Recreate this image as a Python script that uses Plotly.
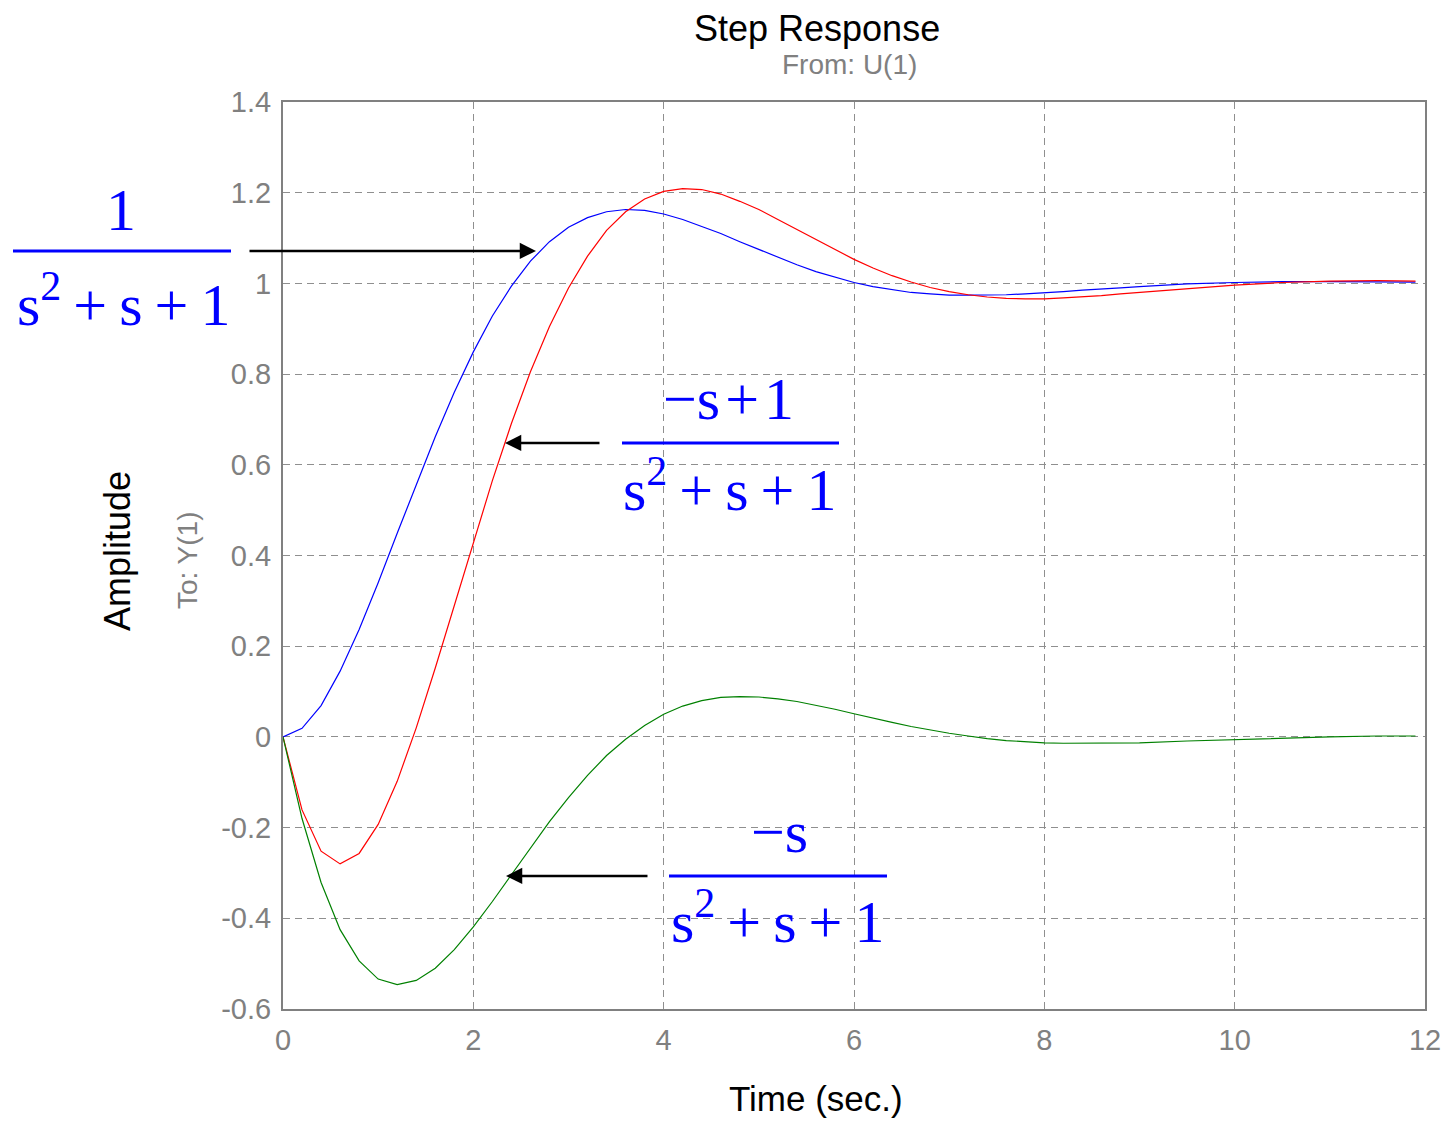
import plotly.graph_objects as go

# ---- data ----
time_s = [0.0, 0.2, 0.4, 0.6, 0.8, 1.0, 1.2, 1.4, 1.6, 1.8, 2.0, 2.2, 2.4, 2.6, 2.8,
          3.0, 3.2, 3.4, 3.6, 3.8, 4.0, 4.2, 4.4, 4.6, 4.8, 5.0, 5.2, 5.4, 5.6, 5.8,
          6.0, 6.2, 6.4, 6.6, 6.8, 7.0, 7.2, 7.4, 7.6, 7.8, 8.0, 8.2, 8.4, 8.6, 8.8,
          9.0, 9.5, 10.0, 10.5, 11.0, 11.5, 11.9]

blue_resp = [0.000, 0.019, 0.069, 0.145, 0.237, 0.340, 0.449, 0.557, 0.662, 0.760, 0.849,
             0.928, 0.994, 1.049, 1.092, 1.124, 1.145, 1.158, 1.163, 1.161, 1.153, 1.141,
             1.126, 1.110, 1.092, 1.075, 1.058, 1.041, 1.026, 1.014, 1.002, 0.993, 0.986,
             0.980, 0.977, 0.974, 0.974, 0.974, 0.975, 0.977, 0.979, 0.982, 0.985, 0.987,
             0.990, 0.993, 0.999, 1.002, 1.004, 1.004, 1.004, 1.003]

red_resp = [0.000, -0.161, -0.252, -0.280, -0.257, -0.193, -0.098, 0.020, 0.152, 0.291,
            0.430, 0.565, 0.691, 0.805, 0.905, 0.990, 1.060, 1.117, 1.158, 1.186, 1.203,
            1.209, 1.207, 1.197, 1.181, 1.163, 1.141, 1.119, 1.096, 1.074, 1.053, 1.034,
            1.017, 1.003, 0.991, 0.982, 0.975, 0.970, 0.967, 0.966, 0.966, 0.968, 0.970,
            0.973, 0.977, 0.980, 0.989, 0.996, 1.002, 1.005, 1.006, 1.005]

green_resp = [0.000, -0.180, -0.321, -0.425, -0.494, -0.534, -0.546, -0.537, -0.510, -0.469,
              -0.419, -0.363, -0.304, -0.245, -0.187, -0.134, -0.085, -0.041, -0.005, 0.025,
              0.050, 0.068, 0.080, 0.087, 0.089, 0.088, 0.084, 0.078, 0.070, 0.061, 0.051,
              0.041, 0.032, 0.023, 0.015, 0.008, 0.002, -0.004, -0.008, -0.011, -0.013,
              -0.014, -0.014, -0.014, -0.014, -0.013, -0.009, -0.006, -0.002, 0.000, 0.002,
              0.002]

x_ticks = [0, 2, 4, 6, 8, 10, 12]
x_ticktext = ["0", "2", "4", "6", "8", "10", "12"]
y_ticks = [-0.6, -0.4, -0.2, 0, 0.2, 0.4, 0.6, 0.8, 1.0, 1.2, 1.4]
y_ticktext = ["-0.6", "-0.4", "-0.2", "0", "0.2", "0.4", "0.6", "0.8", "1", "1.2", "1.4"]

# ---- figure (page body adds an 8 px margin) ----
OFF = 8
W, H = 1451 - 2 * OFF, 1126 - 2 * OFF
L, T = 283 - OFF, 102 - OFF
R = W - (1425 - OFF)
B = H - (1009 - OFF)
PW, PH = W - L - R, H - T - B


def px(xpix):
    # reference-screen pixel -> paper fraction
    return (xpix - OFF - L) / PW


def py(ypix):
    return (H - B - (ypix - OFF)) / PH


fig = go.Figure()
fig.add_trace(go.Scatter(x=time_s, y=blue_resp, mode="lines",
                         line=dict(color="#0000ff", width=1.2), showlegend=False))
fig.add_trace(go.Scatter(x=time_s, y=red_resp, mode="lines",
                         line=dict(color="#ff0000", width=1.2), showlegend=False))
fig.add_trace(go.Scatter(x=time_s, y=green_resp, mode="lines",
                         line=dict(color="#008000", width=1.2), showlegend=False))

SANS = "Liberation Sans, Arial, sans-serif"
SERIF = "Liberation Serif, Times New Roman, serif"
GRAY = "#808080"

axis_common = dict(
    showgrid=True, gridcolor="#8f8f8f", gridwidth=1, griddash="7px,5px",
    zeroline=False, showline=True, linecolor=GRAY, linewidth=2, mirror=True,
    ticks="", automargin=False, tickfont=dict(family=SANS, size=29, color=GRAY),
)
fig.update_layout(
    width=W, height=H,
    margin=dict(l=L, r=R, t=T, b=B, autoexpand=False),
    paper_bgcolor="white", plot_bgcolor="white",
    xaxis=dict(range=[0, 12], tickvals=x_ticks, ticktext=x_ticktext,
               ticklabelstandoff=4, **axis_common),
    yaxis=dict(range=[-0.6, 1.4], tickvals=y_ticks, ticktext=y_ticktext,
               ticklabelstandoff=4, **axis_common),
)

ann = []
# titles
ann.append(dict(text="Step Response", x=px(817), y=py(28), font=dict(family=SANS, size=36, color="black")))
ann.append(dict(text="From: U(1)", x=px(849), y=py(65), font=dict(family=SANS, size=28, color=GRAY)))
ann.append(dict(text="Time (sec.)", x=px(816), y=py(1098), font=dict(family=SANS, size=35, color="black")))
ann.append(dict(text="Amplitude", x=px(117), y=py(551), textangle=-90, font=dict(family=SANS, size=36, color="black")))
ann.append(dict(text="To: Y(1)", x=px(187), y=py(560), textangle=-90, font=dict(family=SANS, size=28, color=GRAY)))
for a in ann:
    a.update(xref="paper", yref="paper", showarrow=False, xanchor="center", yanchor="middle")

FS = 60
TS = "\u2009"
HS = "\u200a"
blue_txt = dict(family=SERIF, size=FS, color="#0000ff")
den_txt = f"s<sup>2</sup>{TS}+{TS}s{TS}+{TS}1"
fracs = [
    # numerator, num centre px, denominator, den centre px
    ("1", (121, 210), den_txt, (123, 301)),
    (f"\u2212s{HS}+{HS}1", (728, 399), den_txt, (729, 485)),
    ("\u2212s", (779, 832), den_txt, (777, 917)),
]
for num, (nx, ny), den, (dx, dy) in fracs:
    ann.append(dict(text=num, x=px(nx), y=py(ny), xref="paper", yref="paper", showarrow=False,
                    xanchor="center", yanchor="middle", font=blue_txt))
    ann.append(dict(text=den, x=px(dx), y=py(dy), xref="paper", yref="paper", showarrow=False,
                    xanchor="center", yanchor="middle", font=blue_txt))

# arrows (tip in data coords, tail offset in pixels)
arrows = [((536 - 283) / 95.17, (737 - 251) / 453.5, -288),
          ((505 - 283) / 95.17, (737 - 443) / 453.5, 96),
          ((506 - 283) / 95.17, (737 - 876) / 453.5, 143)]
for ax_, ay_, off in arrows:
    ann.append(dict(x=ax_, y=ay_, xref="x", yref="y", text="", showarrow=True,
                    ax=off, ay=0, arrowhead=2, arrowsize=1.3, arrowwidth=2.5,
                    arrowcolor="black"))
fig.update_layout(annotations=ann)

# fraction bars
bars = [(13, 231, 251), (622, 839, 443), (669, 887, 876)]
for x0, x1, yb in bars:
    fig.add_shape(type="line", xref="paper", yref="paper", x0=px(x0), x1=px(x1),
                  y0=py(yb), y1=py(yb), line=dict(color="#0000ff", width=3))

fig.write_html("out.html")
